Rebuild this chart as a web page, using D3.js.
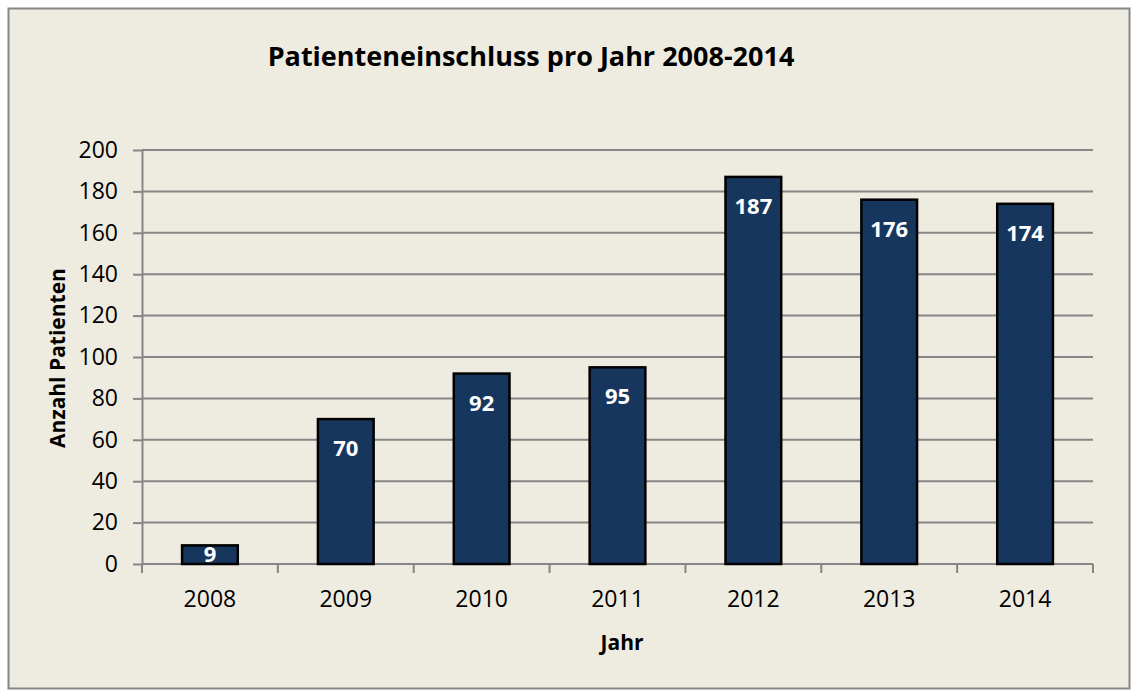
<!DOCTYPE html>
<html>
<head>
    <title>Patienteneinschluss pro Jahr</title>
    <style>
        html, body {
            margin: 0;
            padding: 0;
            background: #ffffff;
        }
        svg text {
            font-family: "Open Sans", "Noto Sans", sans-serif;
        }
        .axis text {
            font-size: 23px;
            fill: #000;
        }
        .axis path, .axis line {
            stroke: #868686;
            stroke-width: 2;
        }
    </style>
    <script src="https://d3js.org/d3.v7.min.js"></script>
</head>
<body>
<svg id="chart"></svg>
<script>
    const jahre = ["2008", "2009", "2010", "2011", "2012", "2013", "2014"];
    const patienten = [9, 70, 92, 95, 187, 176, 174];
    const yTicks = [0, 20, 40, 60, 80, 100, 120, 140, 160, 180, 200];

    const width = 1138, height = 697;
    const margin = { top: 150, right: 45, bottom: 133, left: 142 };
    const innerW = width - margin.left - margin.right;
    const innerH = height - margin.top - margin.bottom;

    const svgRoot = d3.select("#chart")
        .attr("width", width)
        .attr("height", height);

    // Hintergrund mit Rahmen
    svgRoot.append("rect")
        .attr("x", 8.5).attr("y", 8.5)
        .attr("width", width - 17).attr("height", height - 17)
        .attr("fill", "#eeebe0")
        .attr("stroke", "#868686")
        .attr("stroke-width", 2);

    svgRoot.append("text")
        .attr("x", 531)
        .attr("y", 66)
        .attr("text-anchor", "middle")
        .attr("font-size", "27px")
        .attr("font-weight", "bold")
        .text("Patienteneinschluss pro Jahr 2008-2014");

    const svg = svgRoot.append("g")
        .attr("transform", "translate(" + margin.left + "," + margin.top + ")");

    const x = d3.scaleBand()
        .domain(jahre)
        .range([0, innerW])
        .paddingInner(0.59)
        .paddingOuter(0.295);

    const y = d3.scaleLinear()
        .domain([0, 200])
        .range([innerH, 0]);

    // Gitterlinien
    svg.append("g")
        .selectAll("line")
        .data(yTicks.filter(d => d > 0))
        .enter().append("line")
        .attr("x1", 0).attr("x2", innerW)
        .attr("y1", d => y(d)).attr("y2", d => y(d))
        .attr("stroke", "#868686")
        .attr("stroke-width", 2);

    const yAxis = d3.axisLeft(y)
        .tickValues(yTicks)
        .tickSizeInner(9)
        .tickSizeOuter(0)
        .tickPadding(15);

    svg.append("g")
        .attr("class", "y axis")
        .call(yAxis);

    // x-Achse mit Teilstrichen zwischen den Kategorien
    const xAxisG = svg.append("g")
        .attr("class", "x axis")
        .attr("transform", "translate(0," + innerH + ")");
    xAxisG.append("line")
        .attr("x1", 0).attr("x2", innerW)
        .attr("stroke", "#868686").attr("stroke-width", 2);
    const step = innerW / jahre.length;
    xAxisG.selectAll(".sep")
        .data(d3.range(jahre.length + 1))
        .enter().append("line")
        .attr("class", "sep")
        .attr("x1", i => i * step).attr("x2", i => i * step)
        .attr("y1", 0).attr("y2", 9)
        .attr("stroke", "#868686").attr("stroke-width", 2);
    xAxisG.selectAll(".lbl")
        .data(jahre)
        .enter().append("text")
        .attr("class", "lbl")
        .attr("x", d => x(d) + x.bandwidth() / 2)
        .attr("y", 43)
        .attr("text-anchor", "middle")
        .text(d => d);

    svg.selectAll(".bar")
        .data(patienten)
        .enter().append("rect")
        .attr("class", "bar")
        .attr("x", (d, i) => x(jahre[i]))
        .attr("y", d => y(d))
        .attr("width", x.bandwidth())
        .attr("height", d => innerH - y(d))
        .attr("fill", "#17365d")
        .attr("stroke", "#000")
        .attr("stroke-width", 2.5);

    svg.selectAll(".val")
        .data(patienten)
        .enter().append("text")
        .attr("class", "val")
        .attr("x", (d, i) => x(jahre[i]) + x.bandwidth() / 2)
        .attr("y", d => Math.min(y(d) + 37, innerH - 2))
        .attr("text-anchor", "middle")
        .attr("font-size", "22px")
        .attr("font-weight", "bold")
        .attr("fill", "#fff")
        .text(d => d);

    svgRoot.append("text")
        .attr("transform", "translate(65," + 358 + ") rotate(-90)")
        .attr("text-anchor", "middle")
        .attr("font-size", "21px")
        .attr("font-weight", "bold")
        .text("Anzahl Patienten");

    svgRoot.append("text")
        .attr("x", 622)
        .attr("y", 650)
        .attr("text-anchor", "middle")
        .attr("font-size", "21px")
        .attr("font-weight", "bold")
        .text("Jahr");
</script>
</body>
</html>
